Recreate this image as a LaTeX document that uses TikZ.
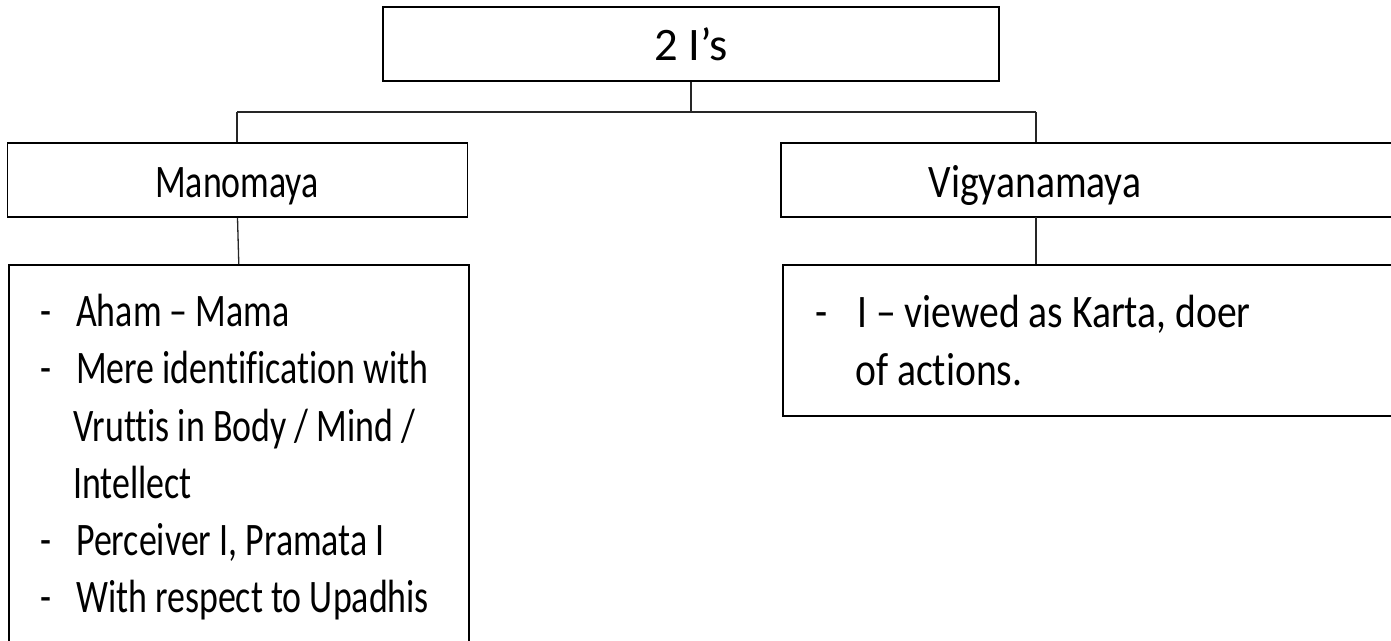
\documentclass[tikz,border=0pt]{standalone}
\usepackage{fontspec}
\setmainfont{Carlito}
\newfontfamily\leftfam[FakeStretch=0.77,Ligatures=NoCommon]{Carlito}
\newfontfamily\rightfam[FakeStretch=0.85,Ligatures=NoCommon]{Carlito}
\begin{document}
\begin{tikzpicture}[x=1pt,y=-1pt,
  box/.style={draw=black,line width=1.6pt,minimum width=#1,minimum height=74pt,inner sep=0pt},
  topbox/.style={draw=black,line width=2.6pt,minimum width=616pt,minimum height=74pt,inner sep=0pt},
  listbox/.style={draw=black,line width=1.6pt,inner sep=0pt,anchor=north west},
  wire/.style={draw=black!85,line width=1.3pt},
  ltxt/.style={inner sep=0pt,anchor=base west,font=\leftfam\fontsize{46.6}{56}\selectfont},
  rtxt/.style={inner sep=0pt,anchor=base west,font=\rightfam\fontsize{46.6}{56}\selectfont}]
\useasboundingbox (0,0) rectangle (1391,640);
\clip (0,0) rectangle (1391,640);

% boxes
\node[topbox] (top) at (691,44) {};
\node[box=460pt] (mano) at (237.5,180) {};
\node[box=640pt] (vig) at (1101,180) {};
\node[listbox,minimum width=460pt,minimum height=440pt] (manolist) at (8,264) {};
\node[listbox,minimum width=640pt,minimum height=151pt] (viglist) at (782,264) {};

% headings
\node[inner sep=0pt,anchor=base,font=\fontsize{46.6}{56}\selectfont] (toplbl) at (691,60) {2 I’s};
\node[inner sep=0pt,anchor=base,font=\leftfam\fontsize{46.6}{56}\selectfont] (manolbl) at (237,197) {Manomaya};
\node[inner sep=0pt,anchor=base,font=\rightfam\fontsize{46.6}{56}\selectfont] (viglbl) at (1035,197) {Vigyanamaya};

% connectors
\coordinate (busM) at (691,112);
\coordinate (busL) at (237,112);
\coordinate (busR) at (1036,112);
\draw[wire] (top.south) -- (busM);
\draw[wire] (busL) -- (busR);
\draw[wire] (busL) -- (busL |- mano.north);
\draw[wire] (busR) -- (busR |- vig.north);
\draw[wire] (mano.south) -- (manolist.north);
\coordinate (vigdown) at (1036,217);
\draw[wire] (vigdown) -- (vigdown |- viglist.north);

% left list
\node[ltxt] (d1) at (40,326) {-};
\node[ltxt] (l1) at (76,326) {Aham – Mama};
\node[ltxt] (d2) at (40,383) {-};
\node[ltxt] (l2) at (76,383) {Mere identification with};
\node[ltxt] (l3) at (73,441) {Vruttis in Body / Mind /};
\node[ltxt] (l4) at (73,498) {Intellect};
\node[ltxt] (d5) at (40,555) {-};
\node[ltxt] (l5) at (76,555) {Perceiver I, Pramata I};
\node[ltxt] (d6) at (40,612) {-};
\node[ltxt] (l6) at (76,612) {With respect to Upadhis};

% right list
\node[rtxt] (r0) at (815,327) {-};
\node[rtxt] (r1) at (857,327) {I – viewed as Karta, doer};
\node[rtxt] (r2) at (855,385) {of actions.};
\end{tikzpicture}
\end{document}
